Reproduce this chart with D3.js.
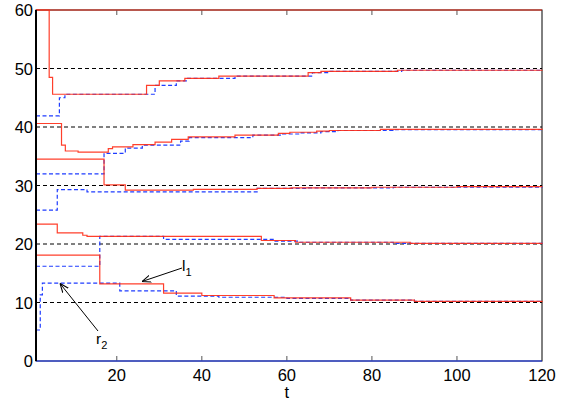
<!DOCTYPE html>
<html>
<head>
  <meta charset="utf-8">
  <title>l / r convergence</title>
  <style>
    body { margin: 0; background: #fff; }
    svg { display: block; font-family: "Liberation Sans", Arial, sans-serif; }
  </style>
</head>
<body>
  <svg width="572" height="402"></svg>
  <script src="https://d3js.org/d3.v7.min.js"></script>
  <script>
    // step breakpoints [t, value], each held until the next one
    const l5 = [[1,60],[4.1,48.5],[4.9,45.6],[27,47.1],[30,47.9],[36,48.3],[44,48.7],[65,49.3],[68,49.5],[86,49.7],[120,49.8]];
    const r5 = [[1,41.9],[6.5,45.0],[7.8,45.6],[29,47.1],[34,47.9],[36.5,48.3],[47.8,48.7],[66,49.3],[70,49.5],[87,49.7],[120,49.8]];
    const l4 = [[1,40.6],[7,36.9],[7.9,35.9],[10.9,35.7],[18,36.3],[19,36.6],[23.8,37.0],[29,37.4],[32.9,37.9],[36.8,38.3],[47.8,38.6],[58,38.9],[60.7,39.1],[67,39.3],[70,39.4],[82,39.6],[120,39.75]];
    const r4 = [[1,32.0],[17,35.5],[22,36.4],[26,36.9],[35,37.6],[37,38.2],[52,38.6],[59,38.8],[63,39.0],[68,39.2],[72,39.4],[85,39.55],[120,39.7]];
    const l3 = [[1,34.5],[17,30.1],[22,29.2],[38,29.35],[53,29.5],[61,29.6],[80,29.7],[100,29.8],[120,29.85]];
    const r3 = [[1,25.8],[6,29.3],[13,28.9],[53,29.5],[65,29.6],[85,29.7],[120,29.8]];
    const l2 = [[1,23.4],[6,21.9],[12,21.5],[13,21.3],[54,20.6],[62,20.3],[89,20.1],[120,20.0]];
    const r2 = [[1,16.2],[16,21.3],[31,20.8],[57,20.5],[63,20.3],[85,20.1],[120,20.0]];
    const l1 = [[1,18.1],[16,13.2],[31,11.6],[40,11.2],[57,10.8],[75,10.4],[90,10.2],[120,10.05]];
    const r1 = [[1,5.3],[2,11.3],[2.5,13.3],[20.7,12.0],[34,11.1],[44,10.9],[60,10.7],[75,10.4],[90,10.2],[120,10.05]];
    const upper = [[1,60],[120,60]];
    const lower = [[1,0],[120,0]];
    const targets = [10, 20, 30, 40, 50];
    const xTicks = [20, 40, 60, 80, 100, 120];
    const yTicks = [0, 10, 20, 30, 40, 50, 60];

    const redSeries = [l5, l4, l3, l2, l1, upper];
    const blueSeries = [r5, r4, r3, r2, r1, lower];

    const svg = d3.select("svg");
    const x = d3.scaleLinear().domain([1, 120]).range([36, 542]);
    const y = d3.scaleLinear().domain([0, 60]).range([361, 10]);

    // frame
    svg.append("rect")
      .attr("x", 36).attr("y", 10).attr("width", 506).attr("height", 351)
      .attr("fill", "none").attr("stroke", "#000").attr("stroke-width", 1);

    // ticks inside the box
    const tg = svg.append("g").attr("stroke", "#555").attr("stroke-width", 1);
    xTicks.filter(t => t < 120).forEach(t => {
      tg.append("line").attr("x1", x(t)).attr("x2", x(t)).attr("y1", 361).attr("y2", 356);
      tg.append("line").attr("x1", x(t)).attr("x2", x(t)).attr("y1", 10).attr("y2", 15);
    });

    // target levels
    svg.append("g").selectAll("line")
      .data(targets).enter().append("line")
      .attr("x1", 36).attr("x2", 542)
      .attr("y1", d => y(d)).attr("y2", d => y(d))
      .attr("stroke", "#000").attr("stroke-width", 1)
      .attr("stroke-dasharray", "4,3");

    const line = d3.line()
      .x(d => x(d[0])).y(d => y(d[1]))
      .curve(d3.curveStepAfter);

    svg.append("g").selectAll("path")
      .data(blueSeries).enter().append("path")
      .attr("fill", "none").attr("stroke", "#1f3cff").attr("stroke-width", 1.2)
      .attr("stroke-dasharray", (d, i) => i === 5 ? null : "4,2.5")
      .attr("d", line);

    svg.append("g").selectAll("path")
      .data(redSeries).enter().append("path")
      .attr("fill", "none").attr("stroke", "#ff2a14").attr("stroke-width", 1.2)
      .attr("opacity", 0.9)
      .attr("d", line);

    // thick left axis line
    svg.append("line").attr("x1", 36).attr("x2", 36).attr("y1", 10).attr("y2", 361)
      .attr("stroke", "#000").attr("stroke-width", 2);

    // tick labels
    svg.append("g").selectAll("text")
      .data(yTicks).enter().append("text")
      .attr("x", 33).attr("y", d => y(d) + 6)
      .attr("text-anchor", "end").attr("font-size", 16.5)
      .text(d => d);

    svg.append("g").selectAll("text")
      .data(xTicks).enter().append("text")
      .attr("x", d => x(d)).attr("y", 381)
      .attr("text-anchor", "middle").attr("font-size", 16.5)
      .text(d => d);

    svg.append("text").attr("x", x(60)).attr("y", 398)
      .attr("text-anchor", "middle").attr("font-size", 16.5).text("t");

    // annotations
    svg.append("defs").append("marker")
      .attr("id", "arr").attr("viewBox", "0 0 10 10").attr("refX", 10).attr("refY", 5)
      .attr("markerWidth", 9).attr("markerHeight", 9).attr("orient", "auto")
      .attr("markerUnits", "userSpaceOnUse")
      .append("path").attr("d", "M0,1 L10,5 L0,9").attr("fill", "none").attr("stroke", "#000").attr("stroke-width", 1.2);

    svg.append("line").attr("x1", 182).attr("y1", 268).attr("x2", 142).attr("y2", 281.5)
      .attr("stroke", "#000").attr("stroke-width", 1).attr("marker-end", "url(#arr)");
    svg.append("line").attr("x1", 98).attr("y1", 331).attr("x2", 60).attr("y2", 283.5)
      .attr("stroke", "#000").attr("stroke-width", 1).attr("marker-end", "url(#arr)");

    const lab1 = svg.append("text").attr("x", 182).attr("y", 271).attr("font-size", 15.5);
    lab1.append("tspan").text("l");
    lab1.append("tspan").attr("dy", 5).attr("font-size", 11).text("1");
    const lab2 = svg.append("text").attr("x", 96).attr("y", 344).attr("font-size", 15.5);
    lab2.append("tspan").text("r");
    lab2.append("tspan").attr("dy", 5).attr("font-size", 11).text("2");
  </script>
</body>
</html>
